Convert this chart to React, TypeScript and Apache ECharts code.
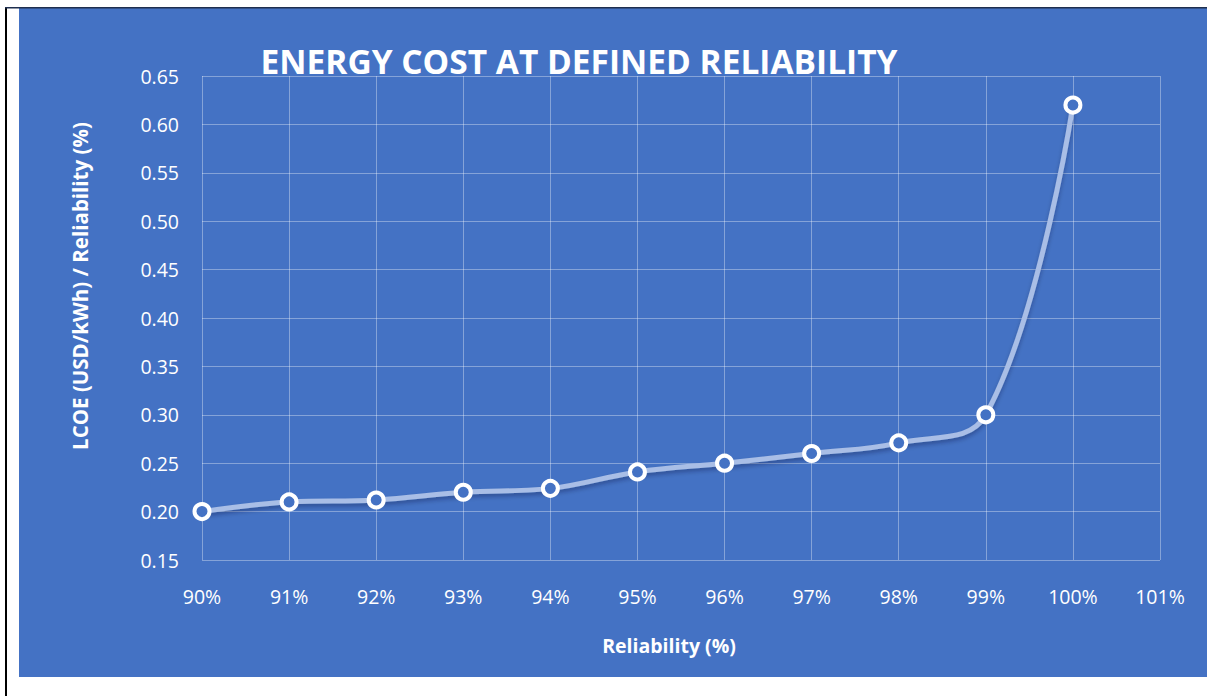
import React, { useEffect, useRef } from "react";
import * as echarts from "echarts";

const reliability = [90, 91, 92, 93, 94, 95, 96, 97, 98, 99, 100];
const lcoe = [0.2, 0.21, 0.212, 0.22, 0.224, 0.241, 0.25, 0.26, 0.271, 0.3, 0.62];
const titleText = "ENERGY COST AT DEFINED RELIABILITY";
const xAxisName = "Reliability (%)";
const yAxisName = "LCOE (USD/kWh) / Reliability (%)";

const BLUE = "#4472C4";
const FONT = "'Open Sans', 'Noto Sans', sans-serif";

export default function App() {
  const ref = useRef<HTMLDivElement>(null);
  useEffect(() => {
    document.body.style.margin = "0";
    const chart = echarts.init(ref.current!, null, { renderer: "svg" });
    chart.setOption({
      animation: false,
      backgroundColor: "#ffffff",
      graphic: [
        { type: "rect", shape: { x: 19, y: 8, width: 1188, height: 669 }, style: { fill: BLUE }, z: -10 },
        { type: "rect", shape: { x: 5, y: 7, width: 2, height: 689 }, style: { fill: "#000" }, z: -9 },
        { type: "rect", shape: { x: 5, y: 7, width: 1202, height: 1.5 }, style: { fill: "#1f2f4f" }, z: -9 },
        {
          type: "text",
          x: 579,
          y: 61,
          style: {
            text: titleText,
            fill: "#fff",
            font: `bold 33.5px ${FONT}`,
            textAlign: "center",
            textVerticalAlign: "middle",
          },
          z: 10,
        },
        {
          type: "text",
          x: 669,
          y: 645,
          style: {
            text: xAxisName,
            fill: "#fff",
            font: `bold 19.5px ${FONT}`,
            textAlign: "center",
            textVerticalAlign: "middle",
          },
        },
        {
          type: "text",
          x: 80,
          y: 286,
          rotation: Math.PI / 2,
          style: {
            text: yAxisName,
            fill: "#fff",
            font: `bold 20.5px ${FONT}`,
            textAlign: "center",
            textVerticalAlign: "middle",
          },
        },
      ],
      grid: { left: 202, right: 47, top: 76, bottom: 136 },
      xAxis: {
        type: "value",
        min: 90,
        max: 101,
        interval: 1,
        axisLine: { show: false },
        axisTick: { show: false },
        splitLine: { show: true, lineStyle: { color: "rgba(255,255,255,0.35)", width: 1 } },
        axisLabel: {
          color: "#fff",
          fontFamily: FONT,
          fontSize: 19.5,
          margin: 26,
          formatter: (v: number) => `${v}%`,
        },
      },
      yAxis: {
        type: "value",
        min: 0.15,
        max: 0.65,
        interval: 0.05,
        axisLine: { show: false },
        axisTick: { show: false },
        splitLine: { show: true, lineStyle: { color: "rgba(255,255,255,0.35)", width: 1 } },
        axisLabel: {
          color: "#fff",
          fontFamily: FONT,
          fontSize: 19.5,
          margin: 23,
          formatter: (v: number) => v.toFixed(2),
        },
      },
      series: [
        {
          type: "line",
          data: reliability.map((r, i) => [r, lcoe[i]]),
          smooth: 0.4,
          symbol: "circle",
          symbolSize: 15,
          lineStyle: {
            color: "#A9BEE6",
            width: 5,
            shadowColor: "rgba(0,0,40,0.3)",
            shadowBlur: 4,
            shadowOffsetY: 3,
          },
          itemStyle: { color: BLUE, borderColor: "#fff", borderWidth: 4 },
        },
      ],
    });
    return () => chart.dispose();
  }, []);
  return <div ref={ref} style={{ width: 1207, height: 696 }} />;
}
